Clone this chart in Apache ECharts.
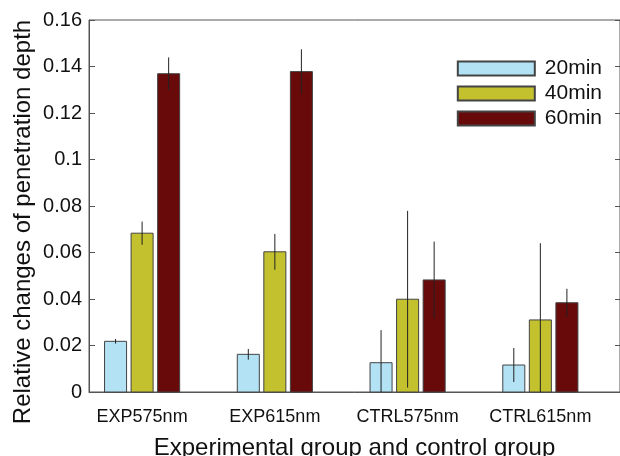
<!DOCTYPE html>
<html>
<head>
<meta charset="utf-8">
<script src="https://cdn.jsdelivr.net/npm/echarts@6/dist/echarts.min.js"></script>
<style>
  html, body { margin: 0; padding: 0; background: #fff; }
  #chart { width: 620px; height: 456px; }
</style>
</head>
<body>
<div id="chart"></div>
<script>
// values
const categories = ["EXP575nm", "EXP615nm", "CTRL575nm", "CTRL615nm"];
const seriesNames = ["20min", "40min", "60min"];
const mean20 = [0.0218, 0.0162, 0.0126, 0.0116];
const mean40 = [0.0683, 0.0603, 0.0399, 0.0310];
const mean60 = [0.1369, 0.1378, 0.0482, 0.0384];
const err20 = [0.0010, 0.0023, 0.0140, 0.0073];
const err40 = [0.0050, 0.0077, 0.0380, 0.0330];
const err60 = [0.0070, 0.0096, 0.0165, 0.0060];
const yTicks = [0, 0.02, 0.04, 0.06, 0.08, 0.1, 0.12, 0.14, 0.16];

const colors = ["#b2e2f4", "#c3c12d", "#680a0a"];
const offsets = [-0.2, 0, 0.2];
const barW = 0.166;

let chart = echarts.init(document.getElementById("chart"));

function makeSeries(idx, means, errs) {
    const rows = means.map(function (m, i) {
        return [i + 1, m, errs[i]];
    });
    return {
        name: seriesNames[idx],
        type: "custom",
        data: rows,
        itemStyle: { color: colors[idx], borderColor: "#444", borderWidth: 1 },
        renderItem: function (params, api) {
            const cs = params.coordSys;
            const x = api.value(0) + offsets[idx];
            const top = api.coord([x, api.value(1)]);
            const base = api.coord([x, 0]);
            const w = api.size([barW, 0])[0];
            const hi = api.coord([x, api.value(1) + api.value(2)]);
            const lo = api.coord([x, api.value(1) - api.value(2)]);
            const clampY = function (y) {
                return Math.max(cs.y, Math.min(cs.y + cs.height, y));
            };
            return {
                type: "group",
                children: [
                    {
                        type: "rect",
                        shape: { x: top[0] - w / 2, y: top[1], width: w, height: base[1] - top[1] },
                        style: { fill: colors[idx], stroke: "#444", lineWidth: 1 },
                    },
                    {
                        type: "line",
                        shape: { x1: top[0], y1: clampY(hi[1]), x2: top[0], y2: clampY(lo[1]) },
                        style: { stroke: "#222", lineWidth: 1 },
                    },
                ],
            };
        },
    };
}

let options = {
    animation: false,
    textStyle: { fontFamily: "Liberation Sans, Arial, sans-serif" },
    grid: {
        left: 89,
        right: 0,
        top: 20,
        bottom: 64,
        outerBoundsMode: "none",
        containLabel: false,
        show: true,
        borderColor: "#555",
        borderWidth: 1,
    },
    legend: {
        data: seriesNames,
        orient: "vertical",
        right: 13,
        top: 53,
        itemWidth: 77,
        itemHeight: 14,
        itemGap: 4,
        icon: "rect",
        textStyle: { fontSize: 21, color: "#111", padding: [0, 0, 0, 5] },
    },
    xAxis: {
        type: "value",
        min: 0.6,
        max: 4.6,
        name: "Experimental group and control group",
        nameLocation: "middle",
        nameGap: 44,
        nameMoveOverlap: false,
        nameTextStyle: { fontSize: 24, color: "#111" },
        axisLine: { show: true, lineStyle: { color: "#555" } },
        axisTick: { show: false },
        splitLine: { show: false },
        axisLabel: {
            customValues: [1, 2, 3, 4],
            formatter: function (v) {
                return categories[Math.round(v) - 1];
            },
            fontSize: 18,
            color: "#111",
            margin: 16,
        },
    },
    yAxis: [
        {
            type: "value",
            min: 0,
            max: 0.16,
            interval: 0.02,
            name: "Relative changes of penetration depth",
            nameLocation: "middle",
            nameGap: 54,
            nameMoveOverlap: false,
            nameTextStyle: { fontSize: 24, color: "#111", padding: [0, 32, 0, 0] },
            axisLine: { show: true, lineStyle: { color: "#555" } },
            axisTick: { show: true, inside: true, length: 6, lineStyle: { color: "#555" } },
            splitLine: { show: false },
            axisLabel: {
                fontSize: 20,
                color: "#111",
                margin: 7,
                formatter: function (v) {
                    return String(yTicks[Math.round(v / 0.02)]);
                },
            },
        },
        {
            type: "value",
            position: "right",
            min: 0,
            max: 0.16,
            interval: 0.02,
            axisLine: { show: false },
            axisTick: { show: true, inside: true, length: 5, lineStyle: { color: "#555" } },
            axisLabel: { show: false },
            splitLine: { show: false },
        },
    ],
    series: [
        makeSeries(0, mean20, err20),
        makeSeries(1, mean40, err40),
        makeSeries(2, mean60, err60),
    ],
};
chart.setOption(options);
</script>
</body>
</html>
